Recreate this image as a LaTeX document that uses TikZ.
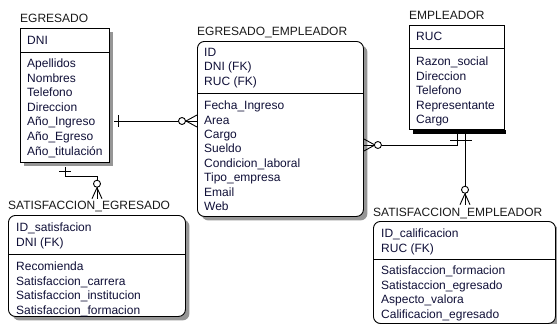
\documentclass[tikz,border=0pt]{standalone}
\usepackage{fontspec}
\setmainfont{Liberation Sans}
\usetikzlibrary{positioning,calc,shadows}
\definecolor{ink}{RGB}{16,16,56}
\definecolor{hatch}{RGB}{150,150,150}

\begin{document}
\begin{tikzpicture}
    [
        x=1pt, y=-1pt,
        table/.style={draw, line width=0.9pt, fill=white, inner sep=0pt, anchor=north west,
            drop shadow={shadow xshift=4pt, shadow yshift=-4pt, fill=hatch, opacity=1}},
        roundtable/.style={table, rounded corners=7pt},
        plaintable/.style={draw, line width=0.9pt, fill=white, inner sep=0pt, anchor=north west},
        title/.style={anchor=base west, inner sep=0pt, text=black!90, font=\fontsize{12}{14.6}\selectfont},
        field/.style={anchor=north west, inner sep=0pt, align=left, text=ink, font=\fontsize{12}{14.6}\selectfont},
        link/.style={line width=0.9pt},
        ring/.style={line width=0.9pt, fill=white},
    ]

    \useasboundingbox (0,0) rectangle (557,324);

    % EGRESADO
    \node (egr) at (20,28) [table, minimum width=89pt, minimum height=134pt] {};
    \node (egr-t) at (20,22.3) [title] {EGRESADO};
    \draw [link] ([yshift=-24pt]egr.north west) -- ([yshift=-24pt]egr.north east);
    \node (egr-k) at (27,35.7) [field] {DNI};
    \node (egr-a) at (27,58.7) [field] {Apellidos\\Nombres\\Telefono\\Direccion\\Año\_Ingreso\\Año\_Egreso\\Año\_titulación};

    % EGRESADO_EMPLEADOR
    \node (ee) at (197,41) [roundtable, minimum width=166pt, minimum height=175pt] {};
    \node (ee-t) at (197,35.3) [title] {EGRESADO\_EMPLEADOR};
    \draw [link] ([yshift=-52pt]ee.north west) -- ([yshift=-52pt]ee.north east);
    \node (ee-k) at (204,47.7) [field, font=\fontsize{12}{14.5}\selectfont] {ID\\DNI (FK)\\RUC (FK)};
    \node (ee-a) at (204,100.7) [field, font=\fontsize{12}{14.43}\selectfont] {Fecha\_Ingreso\\Area\\Cargo\\Sueldo\\Condicion\_laboral\\Tipo\_empresa\\Email\\Web};

    % EMPLEADOR
    \node (emp) at (409,25) [plaintable, minimum width=95pt, minimum height=104pt] {};
    \fill ([xshift=4pt]emp.south west) rectangle ([shift={(1pt,-4pt)}]emp.south east);
    \node (emp-t) at (409,19.3) [title] {EMPLEADOR};
    \draw [link] ([yshift=-23pt]emp.north west) -- ([yshift=-23pt]emp.north east);
    \node (emp-k) at (416,31.7) [field] {RUC};
    \node (emp-a) at (416,56.7) [field] {Razon\_social\\Direccion\\Telefono\\Representante\\Cargo};

    % SATISFACCION_EGRESADO
    \node (sate) at (8,215) [roundtable, minimum width=177pt, minimum height=101pt] {};
    \node (sate-t) at (8,209.3) [title] {SATISFACCION\_EGRESADO};
    \draw [link] ([yshift=-39pt]sate.north west) -- ([yshift=-39pt]sate.north east);
    \node (sate-k) at (16,222.7) [field] {ID\_satisfacion\\DNI (FK)};
    \node (sate-a) at (16,261.7) [field] {Recomienda\\Satisfaccion\_carrera\\Satisfaccion\_institucion\\Satisfaccion\_formacion};

    % SATISFACCION_EMPLEADOR
    \node (satemp) at (373,221) [roundtable, minimum width=182pt, minimum height=102pt] {};
    \node (satemp-t) at (373,216.3) [title] {SATISFACCION\_EMPLEADOR};
    \draw [link] ([yshift=-38pt]satemp.north west) -- ([yshift=-38pt]satemp.north east);
    \node (satemp-k) at (381,228.7) [field] {ID\_calificacion\\RUC (FK)};
    \node (satemp-a) at (381,265.7) [field] {Satisfaccion\_formacion\\Satistaccion\_egresado\\Aspecto\_valora\\Calificacion\_egresado};

    % egresado -- egresado_empleador
    \coordinate (r1) at (0,121);
    \coordinate (e1) at (ee.west |- r1);
    \draw [link] ($(egr.east |- r1)+(4,0)$) -- (e1);
    \draw [link] ($(egr.east |- r1)+(9,-6)$) -- ++(0,12);
    \draw [link] ($(e1)+(-11,0)$) -- ++(11,-6) ($(e1)+(-11,0)$) -- ++(11,6);
    \draw [ring] ($(e1)+(-15,0)$) circle (3.5pt);

    % egresado -- satisfaccion_egresado
    \coordinate (j1) at (65,176);
    \coordinate (j2) at (97,176);
    \coordinate (e2) at ($(sate-t.north -| j2)+(0,-2)$);
    \draw [link] ($(egr.south -| j1)+(0,4)$) -- (j1) -- (j2) -- (e2);
    \draw [link] ($(egr.south -| j1)+(-6,9)$) -- ++(12,0);
    \draw [link] ($(e2)+(0,-11)$) -- ++(-5,11) ($(e2)+(0,-11)$) -- ++(5,11);
    \draw [ring] ($(e2)+(0,-15)$) circle (3.5pt);

    % empleador -- egresado_empleador
    \coordinate (j3) at (457,145);
    \coordinate (e3) at (ee.east |- j3);
    \draw [link] ($(emp.south -| j3)+(0,4)$) -- (j3) -- (e3);
    \draw [link] ($(emp.south -| j3)+(-7,11)$) -- ++(14,0);
    \draw [link] ($(e3)+(11,0)$) -- ++(-11,-6) ($(e3)+(11,0)$) -- ++(-11,6);
    \draw [ring] ($(e3)+(14,0)$) circle (3.5pt);

    % empleador -- satisfaccion_empleador
    \coordinate (j4) at (465,0);
    \coordinate (e4) at ($(satemp-t.north -| j4)+(0,-3)$);
    \draw [link] ($(emp.south -| j4)+(0,4)$) -- (e4);
    \draw [link] ($(emp.south -| j4)+(-7,11)$) -- ++(14,0);
    \draw [link] ($(e4)+(0,-11)$) -- ++(-5,11) ($(e4)+(0,-11)$) -- ++(5,11);
    \draw [ring] ($(e4)+(0,-15)$) circle (3.5pt);
\end{tikzpicture}
\end{document}
